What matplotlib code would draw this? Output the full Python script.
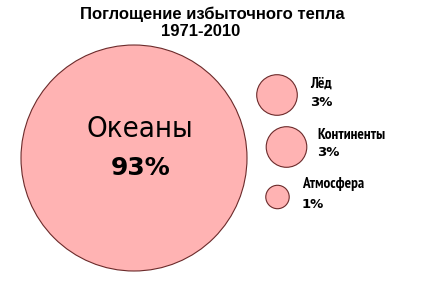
import matplotlib
matplotlib.use("Agg")
import matplotlib.pyplot as plt
from matplotlib.patches import Circle
import numpy as np

title_lines = ["Поглощение избыточного тепла", "1971-2010"]
categories = ["Океаны", "Лёд", "Континенты", "Атмосфера"]
values = [93, 3, 3, 1]

# layout (pixels)
centers = [(134, 158), (277, 95), (286.5, 147), (277.5, 197)]
scale = 113 / np.sqrt(93)

W, H = 424, 282
fig = plt.figure(figsize=(W / 100, H / 100), dpi=100)
ax = fig.add_axes([0, 0, 1, 1])
ax.set_xlim(0, W)
ax.set_ylim(H, 0)
ax.set_aspect("equal")
ax.axis("off")

face = "#ffb3b3"
edge = "#6b2a2a"
for (cx, cy), v in zip(centers, values):
    ax.add_patch(Circle((cx, cy), scale * np.sqrt(v), facecolor=face,
                        edgecolor=edge, linewidth=0.8))

ax.text(212, 14, title_lines[0], ha="center", va="center", fontsize=12,
        fontweight="bold", family="Liberation Sans")
ax.text(201, 32, title_lines[1], ha="center", va="center", fontsize=12,
        fontweight="bold", family="Liberation Sans")

ax.text(140, 129, categories[0], ha="center", va="center", fontsize=21,
        family="DejaVu Sans", fontstretch="condensed")
ax.text(141, 168, f"{values[0]}%", ha="center", va="center", fontsize=18,
        fontweight="bold", family="DejaVu Sans")

label_pos = [None, (310, 84), (317, 135), (302, 184)]
pct_pos = [None, (310, 102), (317, 152), (302, 205)]
for i in range(1, 4):
    ax.text(*label_pos[i], categories[i], ha="left", va="center", fontsize=11,
            fontweight="bold", family="PT Sans Narrow")
    ax.text(*pct_pos[i], f"{values[i]}%", ha="left", va="center", fontsize=9.5,
            fontweight="bold", family="DejaVu Sans")

fig.savefig("out.png", dpi=100)
